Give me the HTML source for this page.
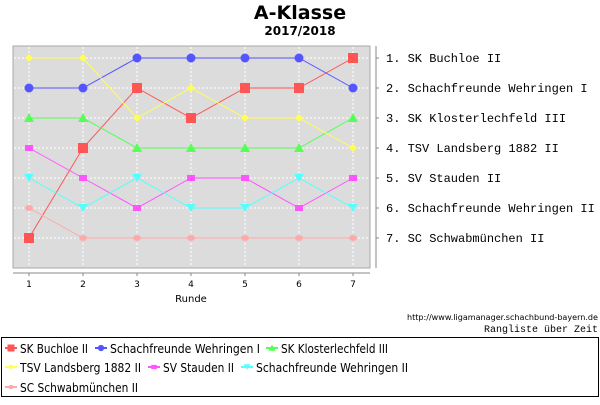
<!DOCTYPE html>
<html><head><meta charset="utf-8"><style>
body{margin:0;background:#fff}
</style></head><body>
<svg id="c" width="600" height="400" xmlns="http://www.w3.org/2000/svg" font-family="DejaVu Sans, Liberation Sans, sans-serif">
<rect width="600" height="400" fill="#fff"/>
<text x="300" y="19" text-anchor="middle" font-size="19" font-weight="bold">A-Klasse</text>
<text x="300" y="35" text-anchor="middle" font-size="12" font-weight="bold">2017/2018</text>
<rect x="13" y="46" width="357" height="222" fill="#dcdcdc" stroke="#aaa"/>
<g id="grid"></g><g id="axes"></g><g id="series"></g>
<text x="191" y="302" text-anchor="middle" font-size="10">Runde</text>
<text x="598" y="320" text-anchor="end" font-size="8" textLength="191" lengthAdjust="spacingAndGlyphs">http://www.ligamanager.schachbund-bayern.de</text>
<text x="598" y="332" text-anchor="end" font-size="10" font-family="Liberation Mono, monospace">Rangliste über Zeit</text>
<rect x="1.5" y="337.5" width="597" height="59" fill="#fff" stroke="#000"/>
<g id="legend"></g>
</svg>
<script>
const rounds=[1,2,3,4,5,6,7];
const teams=["SK Buchloe II","Schachfreunde Wehringen I","SK Klosterlechfeld III","TSV Landsberg 1882 II","SV Stauden II","Schachfreunde Wehringen II","SC Schwabmünchen II"];
const rankBuchloe=[7,4,2,3,2,2,1];
const rankWehringenI=[2,2,1,1,1,1,2];
const rankKlosterlechfeld=[3,3,4,4,4,4,3];
const rankLandsberg=[1,1,3,2,3,3,4];
const rankStauden=[4,5,6,5,5,6,5];
const rankWehringenII=[5,6,5,6,6,5,6];
const rankSchwabmuenchen=[6,7,7,7,7,7,7];
const finalLabels=["1. SK Buchloe II","2. Schachfreunde Wehringen I","3. SK Klosterlechfeld III","4. TSV Landsberg 1882 II","5. SV Stauden II","6. Schachfreunde Wehringen II","7. SC Schwabmünchen II"];
const seriesData=[rankBuchloe,rankWehringenI,rankKlosterlechfeld,rankLandsberg,rankStauden,rankWehringenII,rankSchwabmuenchen];
const colors=["#ff5555","#5555ff","#55ff55","#ffff55","#ff55ff","#55ffff","#ffaaaa"];
const shapes=["square","circle","tri","diamond","smallsq","down","smallcirc"];
const NS="http://www.w3.org/2000/svg";
const X=r=>29+(r-1)*54;
const Y=k=>58+(k-1)*30;
function mk(tag,attrs,parent){const e=document.createElementNS(NS,tag);for(const k in attrs)e.setAttribute(k,attrs[k]);parent.appendChild(e);return e;}
const grid=document.getElementById('grid'),axes=document.getElementById('axes'),ser=document.getElementById('series'),leg=document.getElementById('legend');
rounds.forEach(r=>{const l=mk('line',{x1:X(r),x2:X(r),y1:47,y2:267,stroke:'#fff','stroke-dasharray':'2,2'},grid);

mk('line',{x1:X(r),x2:X(r),y1:273,y2:276,stroke:'#888'},axes);
const tx=mk('text',{x:X(r),y:287,'text-anchor':'middle','font-size':9},axes);tx.textContent=r;
});
mk('line',{x1:13,x2:370,y1:273,y2:273,stroke:'#888'},axes);
mk('line',{x1:376,x2:376,y1:46,y2:268,stroke:'#888'},axes);
finalLabels.forEach((s,i)=>{const k=i+1;const l=mk('line',{x1:14,x2:369,y1:Y(k),y2:Y(k),stroke:'#fff','stroke-dasharray':'2,2'},grid);

mk('line',{x1:376,x2:379,y1:Y(k),y2:Y(k),stroke:'#888'},axes);
const t=mk('text',{x:386,y:Y(k)+4,'font-size':12,'font-family':'Liberation Mono, monospace'},axes);t.textContent=s;
});
function marker(shape,x,y,c,p){
 switch(shape){
 case 'square':return mk('rect',{x:x-5,y:y-5,width:10,height:10,fill:c},p);
 case 'circle':return mk('circle',{cx:x,cy:y,r:4.5,fill:c},p);
 case 'tri':return mk('polygon',{points:`${x},${y-5} ${x+5},${y+4} ${x-5},${y+4}`,fill:c},p);
 case 'diamond':return mk('polygon',{points:`${x},${y-4} ${x+4},${y} ${x},${y+4} ${x-4},${y}`,fill:c},p);
 case 'smallsq':return mk('rect',{x:x-4,y:y-3,width:8,height:6,fill:c},p);
 case 'down':return mk('polygon',{points:`${x-5},${y-4} ${x+5},${y-4} ${x},${y+4}`,fill:c},p);
 default:return mk('ellipse',{cx:x,cy:y,rx:4,ry:3,fill:c},p);}
}
seriesData.forEach((d,i)=>{const g=mk('g',{},ser);

const pl=mk('polyline',{points:d.map((k,j)=>X(rounds[j])+','+Y(k)).join(' '),fill:'none',stroke:colors[i],'stroke-width':1},g);

d.forEach((k,j)=>{const m=marker(shapes[i],X(rounds[j]),Y(k),colors[i],g);
});});
const legPos=[[5,348],[95,348],[266,348],[5,367],[148,367],[241,367],[5,387]];
const legW=[68,150,107,121,71,152,118];
teams.forEach((n,i)=>{const [x,y]=legPos[i];const g=mk('g',{},leg);

mk('line',{x1:x,x2:x+12,y1:y,y2:y,stroke:colors[i],'stroke-width':2},g);
const sm=mk('g',{transform:`translate(${x+6},${y}) scale(0.7) translate(${-(x+6)},${-y})`},g);
marker(shapes[i],x+6,y,colors[i],sm);
const t=mk('text',{x:x+15,y:y+5,'font-size':12,textLength:legW[i],lengthAdjust:'spacingAndGlyphs'},g);t.textContent=n;});
</script>
</body></html>
